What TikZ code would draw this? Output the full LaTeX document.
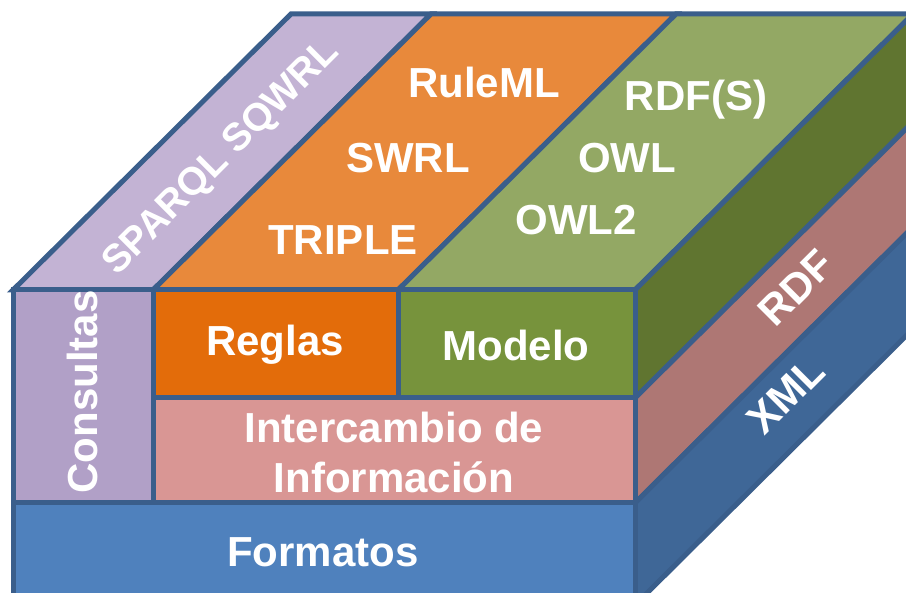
\documentclass[tikz,border=0pt]{standalone}
\usepackage{fontspec}
\setmainfont{Liberation Sans}
\definecolor{edge}{HTML}{3A5E8B}
\definecolor{topPurple}{HTML}{C3B3D4}
\definecolor{frontPurple}{HTML}{B1A0C7}
\definecolor{topOrange}{HTML}{E8893B}
\definecolor{frontOrange}{HTML}{E36C0A}
\definecolor{topGreen}{HTML}{93A864}
\definecolor{frontGreen}{HTML}{77933C}
\definecolor{sideGreen}{HTML}{607530}
\definecolor{frontPink}{HTML}{D99694}
\definecolor{sidePink}{HTML}{AE7774}
\definecolor{frontBlue}{HTML}{4F81BD}
\definecolor{sideBlue}{HTML}{3F6797}
\tikzset{
  face/.style={draw=edge, line width=5pt, fill=#1},
  lbl/.style={text=white, font=\bfseries\fontsize{42}{50}\selectfont, inner sep=0pt, align=center},
  slbl/.style={lbl, font=\bfseries\fontsize{39}{46}\selectfont},
}
\begin{document}
\begin{tikzpicture}[x=1pt,y=-1pt]
  \clip (0,0) rectangle (906,593);
  \fill[white] (0,0) rectangle (906,593);
  % depth vector of the block
  \def\dx{278}\def\dy{-276}
  % top face: three strips
  \draw[face=topPurple] (13,290) -- (153,290) -- ++(\dx,\dy) -- (13+\dx,290+\dy) -- cycle;
  \draw[face=topOrange] (153,290) -- (398,290) -- ++(\dx,\dy) -- (153+\dx,290+\dy) -- cycle;
  \draw[face=topGreen] (398,290) -- (635,290) -- ++(\dx,\dy) -- (398+\dx,290+\dy) -- cycle;
  % right side face: three layers
  \draw[face=sideGreen] (635,290) -- (635,398) -- ++(\dx,\dy) -- (635+\dx,290+\dy) -- cycle;
  \draw[face=sidePink] (635,398) -- (635,503) -- ++(\dx,\dy) -- (635+\dx,398+\dy) -- cycle;
  \draw[face=sideBlue] (635,503) -- (635,605) -- ++(\dx,\dy) -- (635+\dx,503+\dy) -- cycle;
  % front face blocks
  \draw[face=frontPurple] (13,290) rectangle (153,503);
  \draw[face=frontOrange] (153,290) rectangle (398,398);
  \draw[face=frontGreen] (398,290) rectangle (635,398);
  \draw[face=frontPink] (153,398) rectangle (635,503);
  \draw[face=frontBlue] (13,503) rectangle (635,605);
  % front labels
  \node[lbl, rotate=90] (consultas) at (82,392) {Consultas};
  \node[lbl] (reglas) at (275,345) {Reglas};
  \node[lbl] (modelo) at (516,345) {Modelo};
  \node[lbl] (intercambio) at (394,452) {Intercambio de\\Información};
  \node[lbl] (formatos) at (323,552) {Formatos};
  % top labels
  \node[slbl, rotate=45] (sparql) at (222,158) {SPARQL SQWRL};
  \node[lbl] (ruleml) at (484,82) {RuleML};
  \node[lbl] (swrl) at (408,158) {SWRL};
  \node[lbl] (triple) at (343,240) {TRIPLE};
  \node[lbl] (rdfs) at (696,100) {RDF(S)};
  \node[lbl] (owl) at (627,158) {OWL};
  \node[lbl] (owl2) at (576,220) {OWL2};
  % side labels
  \node[lbl, rotate=45] (rdf) at (796,288) {RDF};
  \node[lbl, rotate=45] (xml) at (786,395) {XML};
\end{tikzpicture}
\end{document}
